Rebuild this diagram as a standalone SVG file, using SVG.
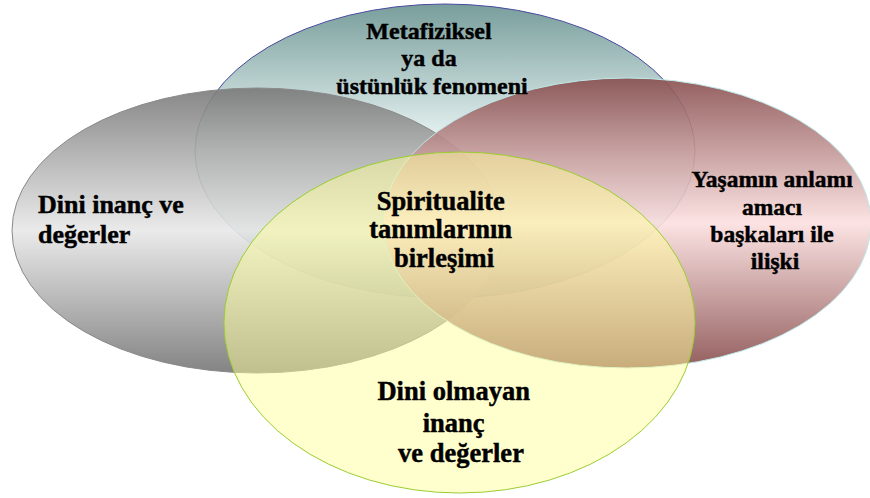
<svg xmlns="http://www.w3.org/2000/svg" width="870" height="498" viewBox="0 0 870 498">
  <style>
    .lbl { font-family: "Liberation Serif", "Times New Roman", serif; font-weight: bold; fill: #000; stroke: #000; stroke-width: 0.45; text-anchor: middle; }
    .ell { stroke-width: 1; }
  </style>
  <defs>
    <linearGradient id="gTeal" x1="0" y1="0" x2="0" y2="1">
      <stop offset="0" stop-color="#789e9b"/>
      <stop offset="0.5" stop-color="#f0fafa"/>
      <stop offset="1" stop-color="#789e9b"/>
    </linearGradient>
    <linearGradient id="gGray" x1="0" y1="0" x2="0" y2="1">
      <stop offset="0" stop-color="#7a7a7a"/>
      <stop offset="0.5" stop-color="#e8e8e8"/>
      <stop offset="1" stop-color="#767676"/>
    </linearGradient>
    <linearGradient id="gRed" x1="0" y1="0" x2="0" y2="1">
      <stop offset="0" stop-color="#884e4e"/>
      <stop offset="0.5" stop-color="#fce0e0"/>
      <stop offset="1" stop-color="#884d4d"/>
    </linearGradient>
  </defs>

  <g id="nodes">
    <g id="node-metafiziksel">
      <ellipse class="ell" cx="445" cy="151" rx="250" ry="147" fill="url(#gTeal)" stroke="#4a4aa0"/>
    </g>
    <g id="node-dini">
      <ellipse class="ell" cx="257" cy="230.5" rx="245" ry="142.5" fill="url(#gGray)" fill-opacity="0.9" stroke="#8a8a8a"/>
    </g>
    <g id="node-yasam">
      <ellipse class="ell" cx="627" cy="223" rx="244" ry="145" fill="url(#gRed)" fill-opacity="0.9" stroke="#bfe8e8"/>
    </g>
    <g id="node-dini-olmayan">
      <ellipse class="ell" cx="459.5" cy="322.5" rx="235.5" ry="170.5" fill="#ffff9a" fill-opacity="0.49" stroke="#9acd32"/>
    </g>
  </g>

  <g id="connectors"></g>

  <g id="labels">
    <text id="label-metafiziksel" class="lbl" font-size="24">
      <tspan x="432" y="39">Metafiziksel</tspan>
      <tspan x="432" y="66">ya da</tspan>
      <tspan x="432" y="94">üstünlük fenomeni</tspan>
    </text>
    <text id="label-dini" class="lbl" font-size="26" style="text-anchor:start">
      <tspan x="38" y="213">Dini inanç ve</tspan>
      <tspan x="38" y="243">değerler</tspan>
    </text>
    <text id="label-yasam" class="lbl" font-size="23.5">
      <tspan x="775" y="187">Yaşamın anlamı</tspan>
      <tspan x="775" y="215">amacı</tspan>
      <tspan x="775" y="242">başkaları ile</tspan>
      <tspan x="775" y="269">ilişki</tspan>
    </text>
    <text id="label-merkez" class="lbl" font-size="26.5">
      <tspan x="444" y="210">Spiritualite</tspan>
      <tspan x="444" y="238">tanımlarının</tspan>
      <tspan x="444" y="267">birleşimi</tspan>
    </text>
    <text id="label-dini-olmayan" class="lbl" font-size="26.5">
      <tspan x="457" y="400">Dini olmayan</tspan>
      <tspan x="457" y="432">inanç</tspan>
      <tspan x="461" y="462">ve değerler</tspan>
    </text>
  </g>
</svg>
